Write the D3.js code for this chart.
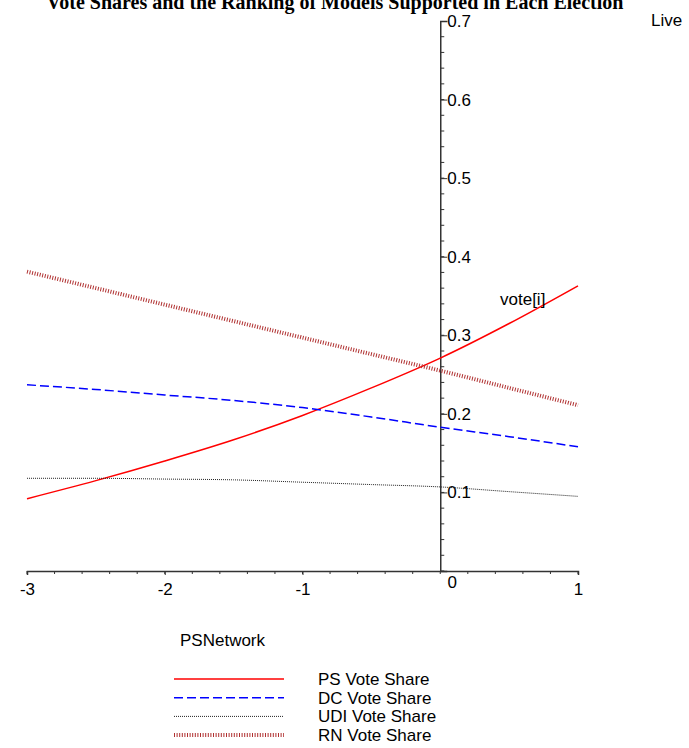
<!DOCTYPE html>
<html>
<head>
<meta charset="utf-8">
<script src="https://cdn.jsdelivr.net/npm/d3@7"></script>
<style>
  body { margin: 0; background: #fff; }
  svg { display: block; }
  .tick text { font-family: "Liberation Sans", Arial, sans-serif; font-size: 17px; fill: #000; }
  .lbl { font-family: "Liberation Sans", Arial, sans-serif; font-size: 17px; fill: #000; }
</style>
</head>
<body>
<svg id="chart" width="689" height="748"></svg>
<script>
const xs = [-3, -2.5, -2, -1.5, -1, -0.5, 0, 0.5, 1];
const psShare  = [0.092, 0.115, 0.140, 0.167, 0.198, 0.233, 0.271, 0.315, 0.363];
const dcShare  = [0.237, 0.231, 0.224, 0.217, 0.208, 0.196, 0.183, 0.171, 0.158];
const udiShare = [0.118, 0.118, 0.117, 0.116, 0.113, 0.110, 0.107, 0.101, 0.095];
const rnShare  = [0.381, 0.360, 0.339, 0.318, 0.297, 0.276, 0.255, 0.233, 0.211];
const xTicks = [-3, -2, -1, 1];
const yTicks = [0.1, 0.2, 0.3, 0.4, 0.5, 0.6, 0.7];
const seriesNames = ["PS Vote Share", "DC Vote Share", "UDI Vote Share", "RN Vote Share"];

const svg = d3.select("#chart");

const x = d3.scaleLinear().domain([-3, 1]).range([27, 578]);
const y = d3.scaleLinear().domain([0, 0.7]).range([571, 21]);

// title, mostly cut off at the top edge as in the original
svg.append("text")
    .attr("x", 335).attr("y", 9)
    .attr("text-anchor", "middle")
    .style("font-family", "'Liberation Serif', 'Times New Roman', serif")
    .style("font-weight", "bold").style("font-size", "20px")
    .text("Vote Shares and the Ranking of Models Supported in Each Election");

// x axis
const xAxis = svg.append("g")
    .attr("transform", `translate(0,${y(0)})`)
    .call(d3.axisBottom(x).tickValues(xTicks).tickSize(4).tickPadding(3).tickFormat(d => String(d)));
xAxis.select(".domain").attr("stroke", "#333").attr("stroke-width", 1.5);
xAxis.selectAll(".tick line").attr("stroke", "#333");
xAxis.selectAll(".tick text").attr("dy", "1em");
xAxis.selectAll(".minor").data(d3.range(-3, 1.001, 0.2)).enter()
    .append("line").attr("class", "minor")
    .attr("x1", d => x(d)).attr("x2", d => x(d))
    .attr("y1", 0).attr("y2", 3).attr("stroke", "#333");

svg.append("text").attr("class", "lbl")
    .attr("x", x(0) + 12).attr("y", y(0) + 17)
    .attr("text-anchor", "middle").text("0");

// y axis
const yAxis = svg.append("g")
    .attr("transform", `translate(${x(0)},0)`)
    .call(d3.axisRight(y).tickValues(yTicks).tickSize(7).tickPadding(0).tickFormat(d3.format(".1f")));
yAxis.select(".domain").attr("stroke", "#333").attr("stroke-width", 1.5);
yAxis.selectAll(".tick line").attr("stroke", "#333");
yAxis.selectAll(".minor").data(d3.range(0, 0.7, 0.02)).enter()
    .append("line").attr("class", "minor")
    .attr("x1", 0).attr("x2", 4)
    .attr("y1", d => y(d)).attr("y2", d => y(d)).attr("stroke", "#333");

// series
const series = [
    { name: seriesNames[0], values: psShare,  color: "#ff0000", width: 1.5, dash: null },
    { name: seriesNames[1], values: dcShare,  color: "#0000ff", width: 1.5, dash: "9,4" },
    { name: seriesNames[2], values: udiShare, color: "#222222", width: 1,   dash: "1,1" },
    { name: seriesNames[3], values: rnShare,  color: "#b03030", width: 4,   dash: "1,1.6" }
];

const line = d3.line()
    .x((d, i) => x(xs[i]))
    .y(d => y(d))
    .curve(d3.curveMonotoneX);

svg.selectAll(".series")
    .data(series)
    .enter()
    .append("path")
    .attr("class", "series")
    .attr("fill", "none")
    .attr("stroke", d => d.color)
    .attr("stroke-width", d => d.width)
    .attr("stroke-dasharray", d => d.dash)
    .attr("d", d => line(d.values));

// labels
svg.append("text").attr("class", "lbl").attr("x", 500).attr("y", 305).text("vote[i]");
svg.append("text").attr("class", "lbl").attr("x", 651).attr("y", 26).text("Live");
svg.append("text").attr("class", "lbl").attr("x", 180).attr("y", 646).text("PSNetwork");

// legend
const legend = svg.selectAll(".legend")
    .data(series)
    .enter()
    .append("g")
    .attr("class", "legend")
    .attr("transform", (d, i) => `translate(0,${679 + i * 18.7})`);

legend.append("line")
    .attr("x1", 174).attr("x2", 284)
    .attr("stroke", d => d.color)
    .attr("stroke-width", d => d.width)
    .attr("stroke-dasharray", d => d.dash);

legend.append("text")
    .attr("class", "lbl")
    .attr("x", 318).attr("y", 6)
    .text(d => d.name);
</script>
</body>
</html>
